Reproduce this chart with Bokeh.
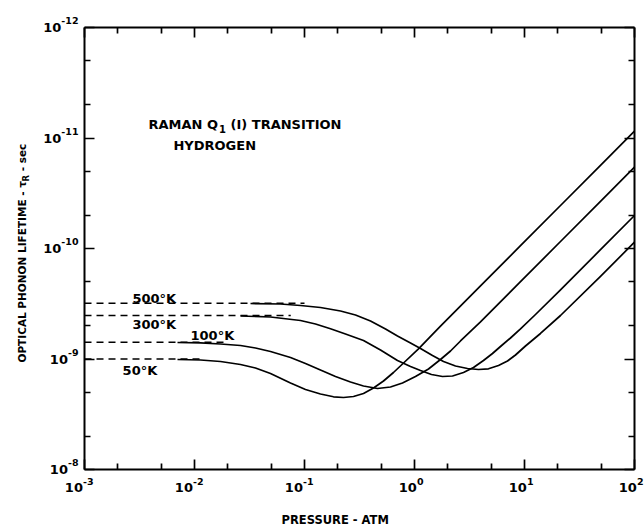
from math import pi, log10
from bokeh.plotting import figure
from bokeh.models import Range1d, LogAxis, FixedTicker, Label
from bokeh.embed import file_html
from bokeh.resources import INLINE

# ---------------- data ----------------
x_major = [1e-3, 1e-2, 1e-1, 1e0, 1e1, 1e2]
x_minor = [2e-3, 5e-3, 2e-2, 5e-2, 0.2, 0.5, 2, 5, 20, 50]
x_exp = ["-3", "-2", "-1", "0", "1", "2"]
y_major = [1e-12, 1e-11, 1e-10, 1e-9, 1e-8]
y_minor = [2e-12, 5e-12, 2e-11, 5e-11, 2e-10, 5e-10, 2e-9, 5e-9]
y_exp = ["-12", "-11", "-10", "-9", "-8"]

temps = ["500°K", "300°K", "100°K", "50°K"]
tau_low = [3.13e-10, 4.04e-10, 7.05e-10, 1.00e-9]      # low-pressure (dashed) values
dash_end = [0.100, 0.075, 0.020, 0.012]                 # pressure where dashes stop

p_500 = [0.03229, 0.06049, 0.09197, 0.1397, 0.2125, 0.2909, 0.3981, 0.5452, 0.7003,
         0.9197, 1.134, 1.457, 1.835, 2.359, 3.032, 3.817, 4.705, 5.804, 7.005, 8.283,
         10.21, 13.97, 21.25, 49.08, 100]
t_500 = [3.146e-10, 3.179e-10, 3.280e-10, 3.420e-10, 3.678e-10, 3.997e-10, 4.529e-10,
         5.350e-10, 6.190e-10, 7.164e-10, 8.034e-10, 9.297e-10, 1.0534e-9, 1.1569e-9,
         1.2187e-9, 1.2444e-9, 1.2264e-9, 1.1449e-9, 1.0425e-9, 9.200e-10, 7.627e-10,
         5.876e-10, 4.039e-10, 1.789e-10, 8.769e-11]

p_300 = [0.02619, 0.04908, 0.09197, 0.1259, 0.1723, 0.2359, 0.3439, 0.4908, 0.7003,
         0.9197, 1.134, 1.427, 1.797, 2.216, 2.789, 3.439, 4.239, 5.117, 6.049, 7.460,
         9.197, 12.59, 21.25, 49.08, 100]
t_300 = [4.081e-10, 4.167e-10, 4.482e-10, 4.822e-10, 5.328e-10, 5.938e-10, 6.800e-10,
         8.290e-10, 1.0317e-9, 1.1690e-9, 1.2706e-9, 1.3811e-9, 1.4399e-9, 1.4250e-9,
         1.3247e-9, 1.1936e-9, 1.0317e-9, 8.917e-10, 7.706e-10, 6.455e-10, 5.350e-10,
         3.956e-10, 2.364e-10, 1.0253e-10, 5.028e-11]

p_100 = [0.007006, 0.01134, 0.01723, 0.02619, 0.03585, 0.04908, 0.07460, 0.1021, 0.1397,
         0.1913, 0.2619, 0.3439, 0.4610, 0.6049, 0.7777, 1.021, 1.341, 1.723, 2.125,
         2.619, 3.229, 3.981, 9.197, 21.25, 49.08, 100]
t_100 = [7.089e-10, 7.134e-10, 7.314e-10, 7.547e-10, 7.951e-10, 8.553e-10, 9.692e-10,
         1.0982e-9, 1.2575e-9, 1.4399e-9, 1.6146e-9, 1.7546e-9, 1.8485e-9, 1.7916e-9,
         1.6486e-9, 1.4399e-9, 1.2315e-9, 1.0105e-9, 8.464e-10, 6.871e-10, 5.636e-10,
         4.615e-10, 1.998e-10, 8.642e-11, 3.748e-11, 1.838e-11]

p_50 = [0.007006, 0.01134, 0.01723, 0.02619, 0.03585, 0.04908, 0.07460, 0.1021, 0.1397,
        0.1835, 0.2262, 0.2789, 0.3439, 0.4239, 0.5228, 0.6442, 0.7777, 1.087, 1.723,
        3.981, 9.197, 21.25, 49.08, 100]
t_50 = [1.0105e-9, 1.0211e-9, 1.0534e-9, 1.1213e-9, 1.2061e-9, 1.3526e-9, 1.6486e-9,
        1.8875e-9, 2.0733e-9, 2.1978e-9, 2.2301e-9, 2.1842e-9, 2.0518e-9, 1.8293e-9,
        1.5813e-9, 1.3247e-9, 1.1097e-9, 8.085e-10, 5.037e-10, 2.181e-10, 9.433e-11,
        4.083e-11, 1.770e-11, 8.68e-12]

curves = [(p_500, t_500), (p_300, t_300), (p_100, t_100), (p_50, t_50)]

# label anchors (data coords: left edge / vertical centre)
temp_label_pos = [(0.00273, 2.84e-10), (0.00273, 4.92e-10), (0.0092, 6.13e-10), (0.00222, 1.26e-9)]

# ---------------- layout ----------------
W, H = 644, 527
BOX_L, BOX_R, BOX_T, BOX_B = 84, 634, 27, 469      # plot box in pixels
xdec = (log10(x_major[-1]) - log10(x_major[0])) / (BOX_R - BOX_L)
ydec = (log10(y_major[-1]) - log10(y_major[0])) / (BOX_B - BOX_T)
x_lo = 10 ** (log10(x_major[0]) - BOX_L * xdec)
x_hi = 10 ** (log10(x_major[-1]) + (W - BOX_R) * xdec)
y_top = 10 ** (log10(y_major[0]) - BOX_T * ydec)
y_bot = 10 ** (log10(y_major[-1]) + (H - BOX_B) * ydec)

FONT = "DejaVu Sans"
BOLD_W = {" ": .348, "(": .457, ")": .457, "-": .415, "°": .5, "τ": .59,
          "A": .774, "C": .734, "D": .830, "E": .683, "F": .683, "G": .821, "H": .838,
          "I": .372, "K": .775, "L": .637, "M": .995, "N": .838, "O": .850, "P": .733,
          "Q": .850, "R": .770, "S": .721, "T": .682, "U": .814, "Y": .724,
          "e": .678, "s": .595, "c": .592}
def tw_bold(s, size):
    return sum(BOLD_W.get(c, .696) for c in s) * size

p = figure(width=W, height=H, x_axis_type="log", y_axis_type="log",
           x_range=Range1d(x_lo, x_hi), y_range=Range1d(y_bot, y_top),
           x_axis_location=None, y_axis_location=None,
           output_backend="svg", toolbar_location=None, min_border=0,
           background_fill_color="white", border_fill_color="white")
p.grid.visible = False
p.outline_line_color = None

xt = FixedTicker(ticks=x_major, minor_ticks=x_minor)
yt = FixedTicker(ticks=y_major, minor_ticks=y_minor)
axes = [
    (LogAxis(ticker=xt, fixed_location=y_major[-1], bounds=(x_major[0], x_major[-1])), "below", x_major),
    (LogAxis(ticker=xt, fixed_location=y_major[0], bounds=(x_major[0], x_major[-1])), "above", x_major),
    (LogAxis(ticker=yt, fixed_location=x_major[0], bounds=(y_major[0], y_major[-1])), "left", y_major),
    (LogAxis(ticker=yt, fixed_location=x_major[-1], bounds=(y_major[0], y_major[-1])), "right", y_major),
]
for ax, side, ticks in axes:
    ax.major_label_overrides = {v: "" for v in ticks}
    ax.major_label_standoff = 0
    ax.axis_line_color = "black"
    ax.axis_line_width = 2
    ax.major_tick_in = 10
    ax.major_tick_out = 0
    ax.minor_tick_in = 6
    ax.minor_tick_out = 0
    ax.major_tick_line_color = "black"
    ax.minor_tick_line_color = "black"
    ax.major_tick_line_width = 1.7
    ax.minor_tick_line_width = 1.7
    p.add_layout(ax, side)

# curves
for px, ty in curves:
    p.line(px, ty, line_color="black", line_width=1.7, line_join="round")
for t0, pe in zip(tau_low, dash_end):
    p.line([x_major[0], pe], [t0, t0], line_color="black", line_width=1.5, line_dash="7 5")

def lab(**kw):
    base = dict(text_font=FONT, text_color="black", text_font_style="bold")
    base.update(kw)
    p.add_layout(Label(**base))

# temperature labels
for t, (lx, ly) in zip(temps, temp_label_pos):
    lab(x=lx, y=ly, text=t, text_align="left", text_baseline="middle", text_font_size="13px")

# x tick labels: "10" + superscript exponent
for v, e in zip(x_major, x_exp):
    w10, ws = tw_bold("10", 13), tw_bold(e, 9.5)
    left = -3 - (w10 + ws) / 2
    left = min(left, (W - BOX_R - 1) - (w10 + ws))
    lab(x=v, y=y_major[-1], text="10", x_offset=left, y_offset=-18,
        text_align="left", text_baseline="middle", text_font_size="13px")
    lab(x=v, y=y_major[-1], text=e, x_offset=left + w10, y_offset=-12,
        text_align="left", text_baseline="middle", text_font_size="9.5px")

# y tick labels
for v, e in zip(y_major, y_exp):
    ws = tw_bold(e, 9.5)
    lab(x=x_major[0], y=v, text=e, x_offset=-6, y_offset=7,
        text_align="right", text_baseline="middle", text_font_size="9.5px")
    lab(x=x_major[0], y=v, text="10", x_offset=-6 - ws, y_offset=0,
        text_align="right", text_baseline="middle", text_font_size="13px")

# axis titles
lab(x=0.19, y=y_major[-1], text="PRESSURE - ATM", y_offset=-50,
    text_align="center", text_baseline="middle", text_font_size="11.5px")

fs = 10.5
ys = 107
s1 = "OPTICAL PHONON LIFETIME - τ"
lab(x=x_major[0], y=y_major[-1], text=s1, x_offset=-63, y_offset=ys, angle=pi / 2,
    text_align="left", text_baseline="middle", text_font_size=f"{fs}px")
ys += tw_bold(s1, fs)
lab(x=x_major[0], y=y_major[-1], text="R", x_offset=-59, y_offset=ys, angle=pi / 2,
    text_align="left", text_baseline="middle", text_font_size="8.5px")
ys += tw_bold("R", 8.5) + tw_bold(" ", fs)
lab(x=x_major[0], y=y_major[-1], text="- sec", x_offset=-63, y_offset=ys, angle=pi / 2,
    text_align="left", text_baseline="middle", text_font_size=f"{fs}px")

# title block inside plot
tx, ty0 = 0.00382, 7.6e-12
s_a = "RAMAN Q"
xo = 0
lab(x=tx, y=ty0, text=s_a, x_offset=xo, text_align="left", text_baseline="middle",
    text_font_size="13px")
xo += tw_bold(s_a, 13) + 1
lab(x=tx, y=ty0, text="1", x_offset=xo, y_offset=-4, text_align="left",
    text_baseline="middle", text_font_size="10px")
xo += tw_bold("1", 10) + tw_bold(" ", 13)
lab(x=tx, y=ty0, text="(I) TRANSITION", x_offset=xo, text_align="left",
    text_baseline="middle", text_font_size="13px")
lab(x=0.00644, y=1.17e-11, text="HYDROGEN", text_align="left", text_baseline="middle",
    text_font_size="13px")

open("out.html", "w").write(file_html(p, INLINE))
